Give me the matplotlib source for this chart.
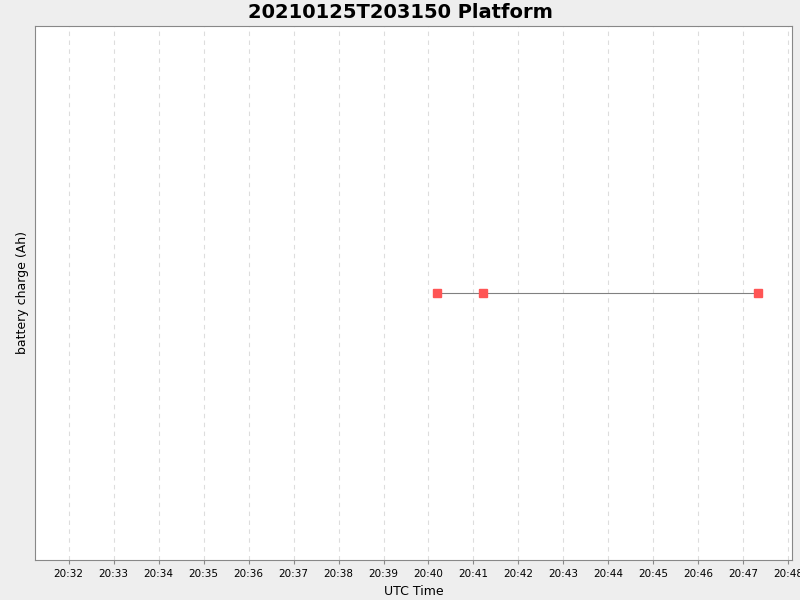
import matplotlib
matplotlib.use("Agg")
import matplotlib.pyplot as plt
import matplotlib.dates as mdates
from datetime import datetime

times = ["2021-01-25 20:40:11", "2021-01-25 20:41:13", "2021-01-25 20:47:19"]
charge = [1.0, 1.0, 1.0]

t = [datetime.strptime(s, "%Y-%m-%d %H:%M:%S") for s in times]

fig = plt.figure(figsize=(8, 6), dpi=100, facecolor="#EEEEEE")
ax = fig.add_axes([35/800, 1-560/600, (792-35)/800, (560-26)/600])
ax.set_facecolor("white")
ax.plot(t, charge, color="#808080", lw=0.8, marker="s", ms=5.5,
        mfc="#FF5555", mec="#FF5555")
ax.set_xlim(datetime(2021, 1, 25, 20, 31, 15), datetime(2021, 1, 25, 20, 48, 5))
ax.set_ylim(0.5, 1.5)
ax.set_yticks([])
ax.xaxis.set_major_locator(mdates.MinuteLocator())
ax.xaxis.set_major_formatter(mdates.DateFormatter("%H:%M"))
ax.tick_params(axis="x", labelsize=7.5, length=3, color="#888888")
ax.grid(axis="x", color="#DDDDDD", linestyle=(0, (4, 4)), lw=0.8)
for s in ax.spines.values():
    s.set_color("#888888")
ax.set_xlabel("UTC Time", fontsize=9)
ax.set_ylabel("battery charge (Ah)", fontsize=9)
fig.suptitle("20210125T203150 Platform", fontsize=14, fontweight="bold", y=0.995)
fig.savefig("out.png", dpi=100, facecolor=fig.get_facecolor())
